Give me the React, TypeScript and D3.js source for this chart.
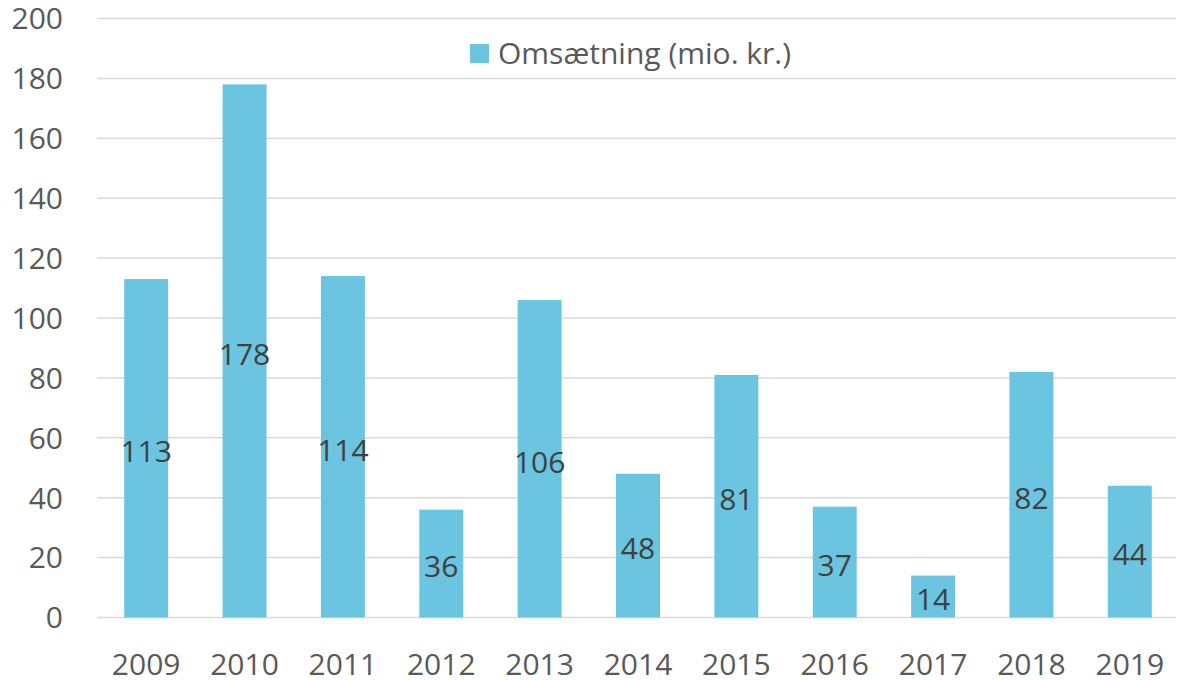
import React from 'react';
import * as d3 from 'd3';

const years = ['2009', '2010', '2011', '2012', '2013', '2014', '2015', '2016', '2017', '2018', '2019'];
const omsaetning = [113, 178, 114, 36, 106, 48, 81, 37, 14, 82, 44];
const yTicks = [0, 20, 40, 60, 80, 100, 120, 140, 160, 180, 200];
const seriesName = 'Omsætning (mio. kr.)';

const width = 1178;
const height = 680;
const barColor = '#6BC5E0';
const font = '"Open Sans", "Noto Sans", sans-serif';

const App = () => {
    const x = d3.scaleBand()
        .domain(years)
        .range([97, 1179])
        .paddingInner(0.553)
        .paddingOuter(0.2765);

    const y = d3.scaleLinear()
        .domain([0, 200])
        .range([617.5, 18.5]);

    return (
        <svg width={width} height={height} style={{ position: 'absolute', left: 0, top: 0 }}
            fontFamily={font}>
            {yTicks.map(t => (
                <g key={t}>
                    <line x1={97} x2={1176} y1={y(t)} y2={y(t)} stroke="#D9D9D9" strokeWidth={1.5} />
                    <text x={63} y={y(t)} dy="0.36em" textAnchor="end" fontSize={30} fill="#595959">
                        {t}
                    </text>
                </g>
            ))}
            {years.map((yr, i) => (
                <g key={yr}>
                    <rect
                        x={x(yr)}
                        y={y(omsaetning[i])}
                        width={x.bandwidth()}
                        height={y(0) - y(omsaetning[i])}
                        fill={barColor}
                    />
                    <text
                        x={x(yr)! + x.bandwidth() / 2}
                        y={(y(0) + y(omsaetning[i])) / 2 + 3}
                        dy="0.36em"
                        textAnchor="middle"
                        fontSize={30}
                        fill="#404040"
                    >
                        {omsaetning[i]}
                    </text>
                    <text
                        x={x(yr)! + x.bandwidth() / 2}
                        y={675}
                        textAnchor="middle"
                        fontSize={30}
                        fill="#595959"
                    >
                        {yr}
                    </text>
                </g>
            ))}
            <rect x={470} y={44} width={19} height={19} fill={barColor} />
            <text x={498} y={64} fontSize={30} fill="#595959">{seriesName}</text>
        </svg>
    );
};

export default App;
